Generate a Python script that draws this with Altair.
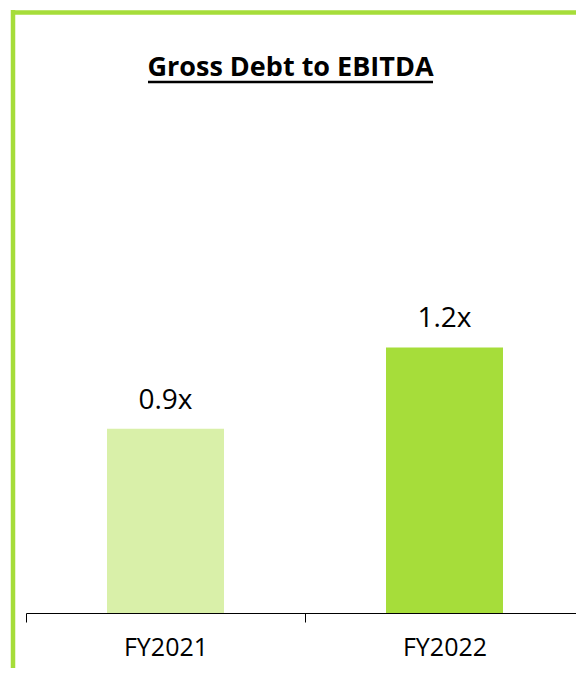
import altair as alt
import pandas as pd

categories = ["FY2021", "FY2022"]
values = [0.86, 1.24]
labels = ["0.9x", "1.2x"]
colors = ["#D9F0A9", "#A6DD3A"]
title_text = "Gross Debt to EBITDA"

df = pd.DataFrame({"cat": categories, "val": values, "lab": labels, "col": colors})

FONT = "Open Sans"
GREEN = "#A6DD3A"

x = alt.X("cat:N", sort=categories,
          scale=alt.Scale(paddingInner=0, paddingOuter=0, range=[0, 558]),
          axis=alt.Axis(title=None, labelAngle=0, labelFont=FONT, labelFontSize=25,
                        labelColor="#000000", labelBaseline="alphabetic", labelPadding=33,
                        tickSize=9, tickColor="#000000", tickWidth=1, tickBand="extent",
                        domainColor="#000000", domainWidth=1, grid=False))
y = alt.Y("val:Q", scale=alt.Scale(domain=[0, 2.4]), axis=None)

bars = alt.Chart(df).mark_bar(size=117).encode(
    x=x, y=y, color=alt.Color("col:N", scale=None))

text = alt.Chart(df).mark_text(font=FONT, fontSize=28, baseline="alphabetic", dy=-20,
                               color="#000000").encode(
    x=alt.X("cat:N", sort=categories), y="val:Q", text="lab:N")

title = alt.Chart(pd.DataFrame({"t": [title_text]})).mark_text(
    font=FONT, fontSize=27, fontWeight="bold", baseline="alphabetic", align="center",
    color="#000000").encode(x=alt.value(264.5), y=alt.value(-23), text="t:N")

underline = alt.Chart(pd.DataFrame({"t": [title_text]})).mark_rule(
    color="#000000", strokeWidth=2.5).encode(
    x=alt.value(122), x2=alt.value(407), y=alt.value(-17))

border_left = alt.Chart(pd.DataFrame({"t": [0]})).mark_rule(
    color=GREEN, strokeWidth=4.5).encode(
    x=alt.value(-13), y=alt.value(-89), y2=alt.value(600))
border_top = alt.Chart(pd.DataFrame({"t": [0]})).mark_rule(
    color=GREEN, strokeWidth=4.5).encode(
    x=alt.value(-15), x2=alt.value(570), y=alt.value(-86.5))

chart = alt.layer(bars, text, title, underline, border_left, border_top).properties(
    width=550, height=514,
    autosize=alt.AutoSizeParams(type="none"),
    padding={"left": 18, "top": 91, "right": 0, "bottom": 55},
    background="#FFFFFF",
).configure_view(stroke=None)

chart.save("out.html", embed_options={"renderer": "svg", "actions": False})
